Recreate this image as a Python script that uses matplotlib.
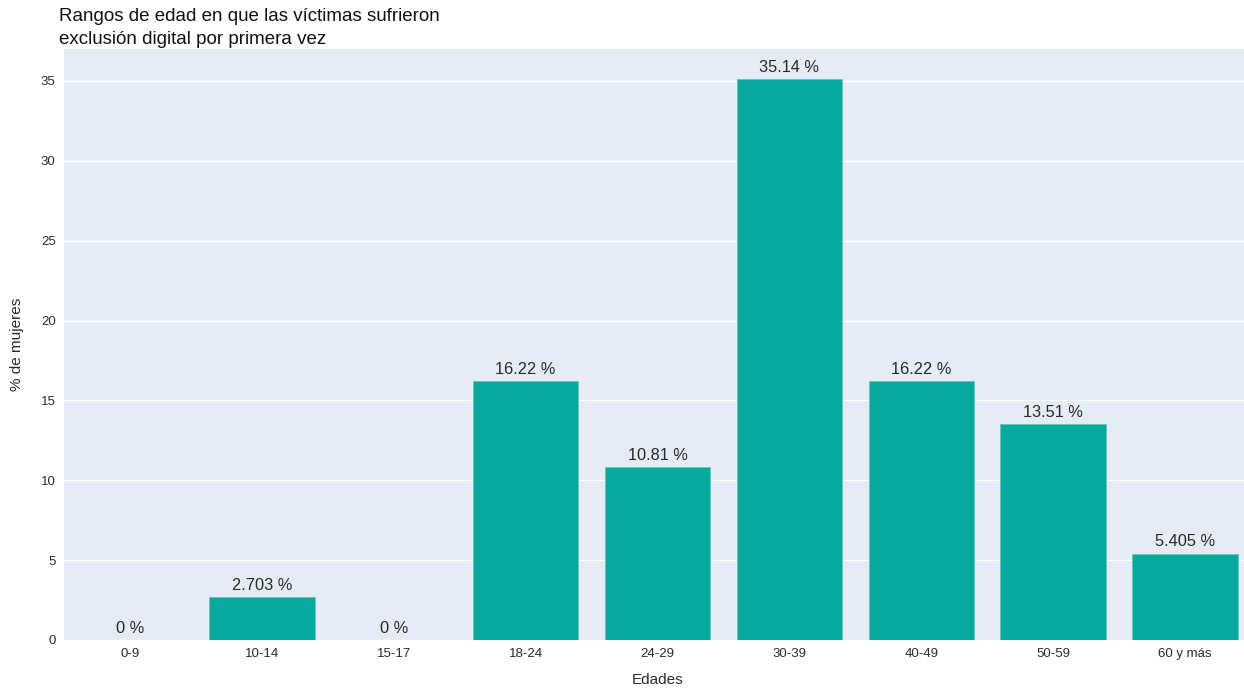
import matplotlib
matplotlib.use("Agg")
import matplotlib.pyplot as plt

categories = ["0-9", "10-14", "15-17", "18-24", "24-29", "30-39", "40-49", "50-59", "60 y más"]
values = [0, 2.703, 0, 16.22, 10.81, 35.14, 16.22, 13.51, 5.405]
labels = ["0 %", "2.703 %", "0 %", "16.22 %", "10.81 %", "35.14 %", "16.22 %", "13.51 %", "5.405 %"]
yticks = [0, 5, 10, 15, 20, 25, 30, 35]

plt.rcParams["font.family"] = ["Liberation Sans", "DejaVu Sans"]
W, H = 1244, 689
fig = plt.figure(figsize=(W / 100, H / 100), dpi=100)
# plot area runs slightly past the right edge of the image, as in the original
ax = fig.add_axes([64 / W, 1 - 640 / H, (1251 - 64) / W, (640 - 49) / H])
ax.set_facecolor("#e5ecf6")

x = range(len(categories))
ax.bar(x, values, width=0.8, color="#07aa9c", edgecolor="#5ec8be", linewidth=0.6, zorder=3)
for xi, v, lab in zip(x, values, labels):
    ax.annotate(lab, (xi, v), xytext=(0, 3), textcoords="offset points",
                ha="center", va="bottom", fontsize=11.8, color="#2a2a2a", zorder=4)

ax.set_xlim(-0.5, len(categories) - 0.5)
ax.set_ylim(0, 37)
ax.set_yticks(yticks)
ax.set_xticks(list(x))
ax.set_xticklabels(categories)
ax.grid(axis="y", color="white", lw=1, zorder=0)
for s in ax.spines.values():
    s.set_visible(False)
ax.tick_params(length=0, labelsize=9.5, colors="#2a2a2a", pad=6)
ax.set_xlabel("Edades", fontsize=11, color="#2a2a2a", labelpad=9)
fig.text(17 / W, 1 - 344 / H, "% de mujeres", rotation=90, ha="center", va="center",
         fontsize=11, color="#2a2a2a")

fig.text(59 / W, 1 - 8 / H, "Rangos de edad en que las víctimas sufrieron\nexclusión digital por primera vez",
         ha="left", va="top", fontsize=13.5, color="#111111", linespacing=1.45)

fig.savefig("out.png", dpi=100, facecolor="white")
